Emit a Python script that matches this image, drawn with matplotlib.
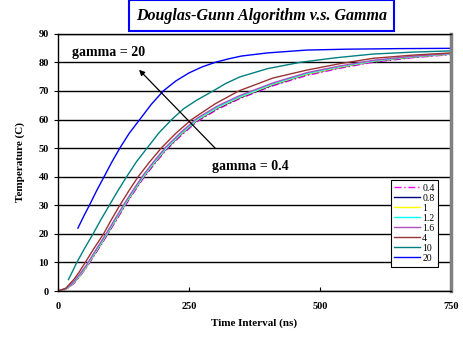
import matplotlib
matplotlib.use('Agg')
import matplotlib.pyplot as plt

# gamma values shown in the legend
gammas = ['0.4', '0.8', '1', '1.2', '1.6', '4', '10', '20']

# small-gamma cluster shares one time grid (ns)
t_low = [0, 15, 30, 42, 55, 74, 93, 110, 126, 144, 162, 184, 206, 235, 265, 305,
         347, 410, 475, 540, 601, 675, 750]
T_04 = [0, 0.5, 2.6, 5.2, 8.4, 13.8, 19.3, 24.4, 29.2, 34.3, 39.2, 44.4, 49.2, 54.4,
        59.2, 63.6, 67.3, 71.8, 75.4, 78.0, 80.0, 81.6, 82.7]
T_08 = [0, 0.6, 2.8, 5.4, 8.7, 14.1, 19.6, 24.8, 29.6, 34.7, 39.6, 44.8, 49.6, 54.8,
        59.6, 64.0, 67.6, 72.1, 75.8, 78.3, 80.3, 81.8, 82.9]
T_1 = [0, 0.6, 2.9, 5.5, 8.8, 14.3, 19.8, 25.0, 29.8, 34.9, 39.8, 45.0, 49.8, 55.0,
       59.8, 64.2, 67.8, 72.3, 75.9, 78.4, 80.4, 81.9, 82.9]
T_12 = [0, 0.7, 3.0, 5.7, 9.0, 14.5, 20.0, 25.2, 30.0, 35.1, 40.0, 45.2, 50.0, 55.2,
        60.0, 64.4, 68.0, 72.5, 76.1, 78.6, 80.5, 82.0, 83.0]
T_16 = [0, 0.8, 3.2, 6.0, 9.3, 14.9, 20.4, 25.6, 30.4, 35.5, 40.4, 45.6, 50.4, 55.6,
        60.4, 64.8, 68.4, 72.8, 76.4, 78.8, 80.7, 82.1, 83.1]

t_4 = [0, 15, 30, 40, 52, 69, 87, 102, 118, 135, 153, 175, 197, 225, 255, 300, 345,
       410, 475, 540, 601, 675, 750]
T_4 = [0, 1.0, 4.0, 6.5, 10, 15, 20, 25, 30, 35, 40, 45.2, 50, 55.2, 60, 65.5, 70,
       74.5, 77.3, 79.6, 81.4, 82.5, 83.3]

t_10 = [20, 28, 36, 51, 67, 82, 98, 114, 131, 150, 170, 192, 217, 240, 265, 296, 320,
        347, 400, 462, 530, 601, 680, 750]
T_10 = [4, 7, 10, 15, 20, 25, 30, 35, 40, 45.3, 50, 55.2, 60, 63.8, 66.8, 70, 72.6,
        74.9, 77.8, 80, 81.6, 82.9, 83.6, 84.0]

t_20 = [38, 50, 60, 74, 88, 103, 118, 136, 156, 178, 201, 225, 250, 275, 300, 325,
        350, 400, 475, 550, 650, 750]
T_20 = [22, 26.5, 30, 35.2, 40, 45.2, 50, 55.2, 60, 65.3, 70, 73.5, 76.3, 78.4, 80,
        81.2, 82.2, 83.3, 84.3, 84.6, 84.8, 84.9]

series = [
    (t_low, T_04, '#ff00ff', (0, (5, 2, 1, 2))),
    (t_low, T_08, '#000080', '-'),
    (t_low, T_1, '#ffff00', '-'),
    (t_low, T_12, '#00ffff', '-'),
    (t_low, T_16, '#b050c0', '-'),
    (t_4, T_4, '#993333', '-'),
    (t_10, T_10, '#008080', '-'),
    (t_20, T_20, '#0000ff', '-'),
]

plt.rcParams['font.family'] = ['Liberation Serif', 'DejaVu Serif']

fig = plt.figure(figsize=(4.64, 3.41), dpi=100)
ax = fig.add_axes([0.125, 0.1466, 0.847, 0.7544])

for (t, T, c, ls), g in zip(series, gammas):
    ax.plot(t, T, color=c, ls=ls, lw=1.0, label=g)

ax.set_xlim(0, 750)
ax.set_ylim(0, 90)
ax.set_xticks([0, 250, 500, 750])
ax.set_yticks(range(0, 91, 10))
ax.yaxis.grid(True, color='black', lw=1.0)
ax.set_axisbelow(True)
ax.tick_params(axis='x', direction='in', length=3, labelsize=7.5, pad=8)
ax.tick_params(axis='y', direction='out', length=3, labelsize=7.5)
for lab in ax.get_xticklabels() + ax.get_yticklabels():
    lab.set_fontweight('bold')
for s in ['left', 'bottom', 'top']:
    ax.spines[s].set_color('black')
    ax.spines[s].set_linewidth(1.0)
ax.spines['right'].set_color('#808080')
ax.spines['right'].set_linewidth(2.5)

ax.set_xlabel('Time Interval (ns)', fontsize=8, fontweight='bold', labelpad=5)
ax.set_ylabel('Temperature (C)', fontsize=8, fontweight='bold', labelpad=10)

ax.annotate('', xy=(151, 78.1), xytext=(304, 49.2),
            arrowprops=dict(arrowstyle='-|>', color='black', lw=0.9, mutation_scale=8))
ax.text(26, 83.6, 'gamma = 20', fontsize=10, fontweight='bold', va='center')
ax.text(294, 43.6, 'gamma = 0.4', fontsize=10, fontweight='bold', va='center')

leg = ax.legend(loc='lower right', bbox_to_anchor=(0.968, 0.095), fontsize=7,
                frameon=True, fancybox=False, framealpha=1, edgecolor='black',
                handlelength=2.6, handletextpad=0.25, labelspacing=0.1,
                borderpad=0.4, borderaxespad=0)
leg.get_frame().set_linewidth(0.8)

fig.text(0.5636, 0.9545, 'Douglas-Gunn Algorithm v.s. Gamma', fontsize=11.5,
         fontweight='bold', fontstyle='italic', ha='center', va='center',
         bbox=dict(boxstyle='square,pad=0.45', fc='white', ec='#0000ff', lw=1.5))

fig.savefig('out.png', dpi=100)
